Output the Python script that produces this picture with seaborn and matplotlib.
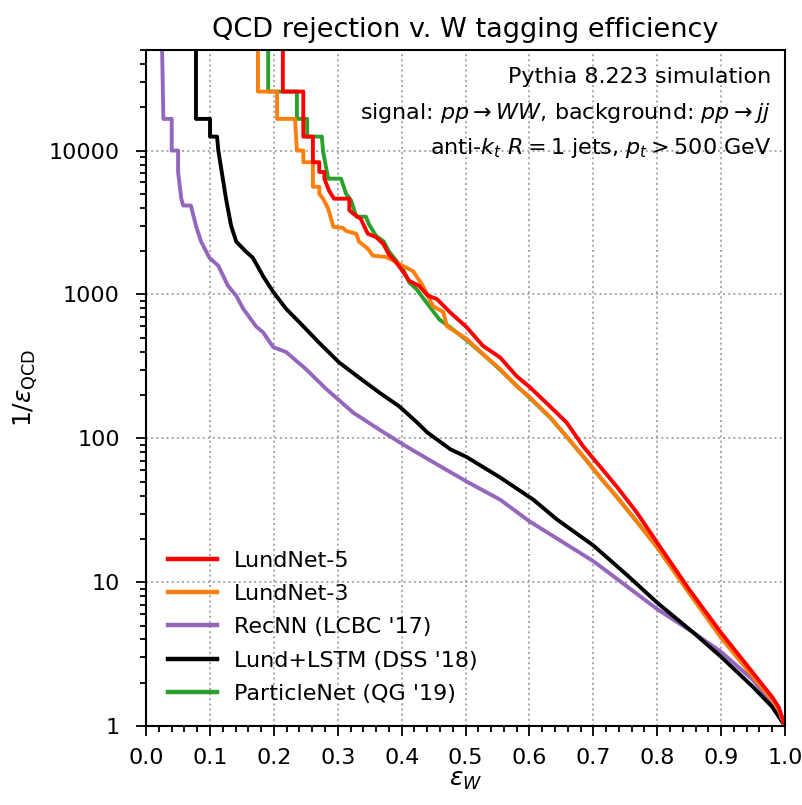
import numpy as np
import pandas as pd
import matplotlib
matplotlib.use("Agg")
import matplotlib.pyplot as plt
import seaborn as sns
from matplotlib.lines import Line2D
from matplotlib.ticker import FixedLocator, FixedFormatter, MultipleLocator, LogLocator, NullFormatter

# ROC curves: signal efficiency vs 1/background efficiency
lundnet5_eff = [0.214, 0.214, 0.246, 0.246, 0.261, 0.261, 0.271, 0.271, 0.279, 0.279, 0.286, 0.294,
                0.305, 0.318, 0.318, 0.324, 0.336, 0.347, 0.36, 0.371, 0.38, 0.391, 0.402, 0.412,
                0.427, 0.441, 0.455, 0.476, 0.502, 0.527, 0.554, 0.58, 0.6, 0.632, 0.658, 0.684,
                0.71, 0.737, 0.768, 0.8, 0.85, 0.9, 0.95, 0.98, 0.99, 1.0]
lundnet5_rej = [5e4, 25700, 25700, 12500, 12500, 8300, 8300, 7100, 7100, 6380, 5300, 4630,
                4630, 4630, 3850, 3650, 3350, 2640, 2500, 2250, 1900, 1680, 1440, 1240,
                1150, 980, 930, 750, 590, 440, 365, 270, 228, 167, 129, 88,
                64, 46, 30.5, 18.8, 8.9, 4.45, 2.34, 1.59, 1.36, 1.0]

lundnet3_eff = [0.175, 0.175, 0.205, 0.205, 0.233, 0.236, 0.246, 0.246, 0.261, 0.261, 0.271, 0.271,
                0.277, 0.285, 0.293, 0.308, 0.313, 0.329, 0.333, 0.347, 0.355, 0.376, 0.391, 0.402,
                0.418, 0.433, 0.449, 0.465, 0.471, 0.502, 0.527, 0.554, 0.58, 0.6, 0.632, 0.658,
                0.684, 0.71, 0.737, 0.762, 0.8, 0.85, 0.9, 0.95, 0.98, 0.99, 1.0]
lundnet3_rej = [5e4, 25700, 25700, 16600, 16600, 10000, 10000, 8300, 8300, 5600, 5600, 5000,
                4630, 3950, 2950, 2900, 2760, 2640, 2330, 2080, 1860, 1820, 1680, 1580,
                1450, 1150, 830, 755, 600, 490, 385, 303, 230, 194, 141, 103,
                75, 54, 39, 28.5, 17.4, 8.4, 4.1, 2.2, 1.52, 1.3, 1.0]

recnn_eff = [0.025, 0.027, 0.04, 0.04, 0.05, 0.05, 0.055, 0.058, 0.07, 0.078, 0.086, 0.099,
             0.113, 0.128, 0.141, 0.152, 0.172, 0.183, 0.199, 0.219, 0.25, 0.282, 0.324, 0.365,
             0.407, 0.45, 0.502, 0.554, 0.6, 0.7, 0.8, 0.857, 0.9, 0.95, 0.98, 1.0]
recnn_rej = [5e4, 16600, 16600, 10000, 10000, 7100, 4630, 4150, 4150, 3000, 2330, 1800,
             1580, 1150, 980, 795, 600, 545, 430, 398, 303, 220, 151, 115,
             88, 68, 50, 37.5, 26.5, 14, 6.5, 4.45, 3.28, 2.09, 1.45, 1.0]

lstm_eff = [0.078, 0.078, 0.1, 0.1, 0.111, 0.113, 0.12, 0.125, 0.133, 0.141, 0.156, 0.167,
            0.183, 0.199, 0.219, 0.24, 0.27, 0.302, 0.333, 0.365, 0.396, 0.424, 0.44, 0.476,
            0.502, 0.554, 0.606, 0.643, 0.7, 0.75, 0.8, 0.857, 0.9, 0.95, 0.98, 1.0]
lstm_rej = [5e4, 16600, 16600, 12500, 12500, 10000, 6380, 4630, 3000, 2330, 1990, 1800,
            1340, 1040, 795, 640, 465, 337, 265, 208, 167, 129, 110, 84,
            74, 53.5, 37.5, 27.3, 18, 11.5, 7.2, 4.45, 3.03, 1.87, 1.36, 1.0]

particlenet_eff = [0.191, 0.191, 0.236, 0.236, 0.252, 0.252, 0.275, 0.277, 0.285, 0.305, 0.313, 0.321,
                   0.329, 0.344, 0.349, 0.36, 0.372, 0.38, 0.402, 0.412, 0.423, 0.443, 0.459, 0.476,
                   0.502, 0.527, 0.554, 0.58, 0.6, 0.632, 0.658, 0.684, 0.71, 0.737, 0.762, 0.8,
                   0.85, 0.9, 0.95, 0.98, 0.99, 1.0]
particlenet_rej = [5e4, 25700, 25700, 16600, 16600, 12500, 12500, 9800, 6380, 6380, 5000, 4480,
                   3470, 3470, 3060, 2550, 2330, 1990, 1500, 1210, 1090, 830, 670, 590,
                   480, 385, 300, 232, 192, 140, 103, 75, 54, 39, 28.5, 17.6,
                   8.5, 4.2, 2.25, 1.55, 1.32, 1.0]

labels = ["LundNet-5", "LundNet-3", "RecNN (LCBC '17)", "Lund+LSTM (DSS '18)", "ParticleNet (QG '19)"]
colors = {"LundNet-5": "#ff0000", "LundNet-3": "#ff7f0e", "RecNN (LCBC '17)": "#9467bd",
          "Lund+LSTM (DSS '18)": "#000000", "ParticleNet (QG '19)": "#2ca02c"}

curves = {
    "LundNet-5": (lundnet5_eff, lundnet5_rej),
    "LundNet-3": (lundnet3_eff, lundnet3_rej),
    "RecNN (LCBC '17)": (recnn_eff, recnn_rej),
    "Lund+LSTM (DSS '18)": (lstm_eff, lstm_rej),
    "ParticleNet (QG '19)": (particlenet_eff, particlenet_rej),
}
rows = []
for name, (xs, ys) in curves.items():
    for x, y in zip(xs, ys):
        rows.append((name, x, y))
df = pd.DataFrame(rows, columns=["model", "eff", "rej"])

fig = plt.figure(figsize=(8.03, 8.05), dpi=100)
ax = fig.add_axes([0.182, 0.098, 0.7956, 0.8399])

# draw back-to-front: purple, black, green, orange, red
draw_order = ["RecNN (LCBC '17)", "Lund+LSTM (DSS '18)", "ParticleNet (QG '19)", "LundNet-3", "LundNet-5"]
for name in draw_order:
    sns.lineplot(data=df[df["model"] == name], x="eff", y="rej", color=colors[name],
                 estimator=None, sort=False, lw=2.8, ax=ax, legend=False)

ax.set_yscale("log")
ax.set_xlim(0, 1)
ax.set_ylim(1, 5e4)

ax.xaxis.set_major_locator(MultipleLocator(0.1))
ax.xaxis.set_minor_locator(MultipleLocator(0.02))
ax.xaxis.set_major_formatter(matplotlib.ticker.FuncFormatter(lambda v, p: f"{v:.1f}"))
ax.yaxis.set_major_locator(FixedLocator([1, 10, 100, 1000, 10000]))
ax.yaxis.set_major_formatter(FixedFormatter(["1", "10", "100", "1000", "10000"]))
ax.yaxis.set_minor_locator(LogLocator(base=10, subs=np.arange(2, 10), numticks=20))
ax.yaxis.set_minor_formatter(NullFormatter())

ax.tick_params(which="both", direction="out", top=False, right=False, labelsize=16, width=1.3)
ax.tick_params(which="major", length=7)
ax.tick_params(which="minor", length=4)
ax.tick_params(axis="y", which="major", pad=12)
ax.tick_params(axis="x", which="major", pad=9)
for s in ax.spines.values():
    s.set_linewidth(1.5)

ax.grid(True, which="major", linestyle=":", color="0.65", lw=1.4)

ax.set_title("QCD rejection v. W tagging efficiency", fontsize=19.5, pad=9)
ax.set_xlabel(r"$\epsilon_W$", fontsize=18, labelpad=0)
ax.set_ylabel(r"$1/\epsilon_{\rm QCD}$", fontsize=18, labelpad=6)

ax.text(0.978, 0.96, "Pythia 8.223 simulation", transform=ax.transAxes,
        ha="right", va="center", fontsize=16)
ax.text(0.978, 0.907, r"signal: $pp \to WW$, background: $pp \to jj$", transform=ax.transAxes,
        ha="right", va="center", fontsize=16)
ax.text(0.978, 0.855, r"anti-$k_t$ $R = 1$ jets, $p_t > 500$ GeV", transform=ax.transAxes,
        ha="right", va="center", fontsize=16)

handles = [Line2D([], [], color=colors[n], lw=3.2) for n in labels]
ax.legend(handles, labels, loc="lower left", frameon=False, fontsize=16,
          handlelength=2.2, handletextpad=0.75, labelspacing=0.6, borderaxespad=0.6)

fig.savefig("out.png", dpi=100)
